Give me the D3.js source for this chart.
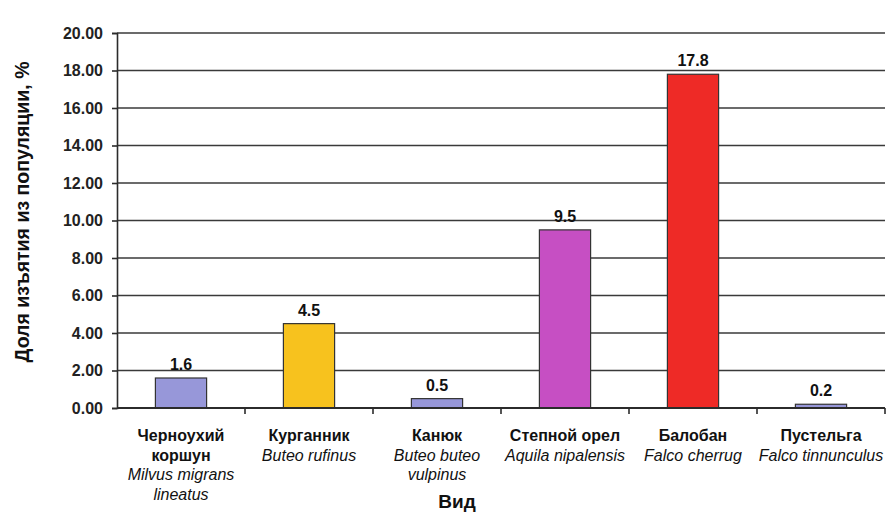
<!DOCTYPE html>
<html>
<head>
<meta charset="utf-8">
<script src="https://cdn.jsdelivr.net/npm/d3@7"></script>
<style>
  html, body { margin: 0; padding: 0; background: #fff; }
  svg { display: block; font-family: "Liberation Sans", Arial, sans-serif; }
</style>
</head>
<body>
<svg id="chart" width="888" height="514"></svg>
<script>
// Species (Russian common name + Latin name lines)
const speciesRu = [["Черноухий", "коршун"], ["Курганник"], ["Канюк"], ["Степной орел"], ["Балобан"], ["Пустельга"]];
const speciesLat = [["Milvus migrans", "lineatus"], ["Buteo rufinus"], ["Buteo buteo", "vulpinus"], ["Aquila nipalensis"], ["Falco cherrug"], ["Falco tinnunculus"]];
// Share removed from population, %
const shares = [1.6, 4.5, 0.5, 9.5, 17.8, 0.2];
const barColors = ["#9797d9", "#f7c21e", "#9797d9", "#c64fc3", "#ee2a26", "#9797d9"];
const yTicks = [0, 2, 4, 6, 8, 10, 12, 14, 16, 18, 20];

const svg = d3.select("#chart");
const margin = { left: 117, right: 3, top: 33, bottom: 106 };
const W = 888, H = 514;
const x0 = margin.left, x1 = W - margin.right;
const yTop = margin.top, yBot = H - margin.bottom;

const x = d3.scaleBand().domain(d3.range(shares.length)).range([x0, x1]).padding(0);
const y = d3.scaleLinear().domain([0, 20]).range([yBot, yTop]);

const ink = "#2b2b2b";

// Horizontal gridlines
svg.append("g").selectAll("line").data(yTicks.filter(v => v > 0)).join("line")
  .attr("x1", x0).attr("x2", x1)
  .attr("y1", d => y(d)).attr("y2", d => y(d))
  .attr("stroke", "#3a3a3a").attr("stroke-width", 1.6);

// Y axis
const yAxis = d3.axisLeft(y).tickValues(yTicks).tickFormat(d3.format(".2f")).tickSize(5).tickPadding(9);
const gy = svg.append("g").attr("transform", `translate(${x0},0)`).call(yAxis);
gy.select(".domain").attr("stroke", ink).attr("stroke-width", 1.6);
gy.selectAll(".tick line").attr("stroke", ink).attr("stroke-width", 1.6);
gy.selectAll(".tick text").attr("fill", "#222").attr("font-size", 16).attr("font-weight", "bold")
  .attr("font-family", "'Liberation Sans', Arial, sans-serif");

// Bars
const barW = x.bandwidth() * 0.4;
svg.append("g").selectAll("rect").data(shares).join("rect")
  .attr("x", (d, i) => x(i) + (x.bandwidth() - barW) / 2)
  .attr("y", d => y(d))
  .attr("width", barW)
  .attr("height", d => y(0) - y(d))
  .attr("fill", (d, i) => barColors[i])
  .attr("stroke", "#333").attr("stroke-width", 1.2);

// Value labels
svg.append("g").selectAll("text").data(shares).join("text")
  .attr("x", (d, i) => x(i) + x.bandwidth() / 2)
  .attr("y", d => y(d) - 8)
  .attr("text-anchor", "middle")
  .attr("font-size", 16).attr("font-weight", "bold").attr("fill", "#111")
  .text(d => d3.format(".1f")(d));

// X axis line with ticks at category boundaries
svg.append("line").attr("x1", x0).attr("x2", x1).attr("y1", y(0)).attr("y2", y(0))
  .attr("stroke", ink).attr("stroke-width", 1.8);
const bounds = d3.range(shares.length + 1).map(i => i < shares.length ? x(i) : x1);
svg.append("g").selectAll("line").data(bounds.slice(1)).join("line")
  .attr("x1", d => d).attr("x2", d => d)
  .attr("y1", y(0)).attr("y2", y(0) + 6)
  .attr("stroke", ink).attr("stroke-width", 1.6);

// Category labels
const lineH = 19.5;
const labelTop = y(0) + 33;
speciesRu.forEach((ru, i) => {
  const cx = x(i) + x.bandwidth() / 2;
  const g = svg.append("g");
  const lines = ru.map(t => ({ t, it: false })).concat(speciesLat[i].map(t => ({ t, it: true })));
  lines.forEach((l, k) => {
    g.append("text")
      .attr("x", cx).attr("y", labelTop + k * lineH)
      .attr("text-anchor", "middle")
      .attr("font-size", 16)
      .attr("font-weight", l.it ? "normal" : "bold")
      .attr("font-style", l.it ? "italic" : "normal")
      .attr("fill", "#111")
      .text(l.t);
  });
});

// Axis titles
svg.append("text")
  .attr("transform", `translate(29,212) rotate(-90)`)
  .attr("text-anchor", "middle")
  .attr("font-size", 19.5).attr("font-weight", "bold").attr("fill", "#111")
  .text("Доля изъятия из популяции, %");

svg.append("text")
  .attr("x", 457).attr("y", 508)
  .attr("text-anchor", "middle")
  .attr("font-size", 19).attr("font-weight", "bold").attr("fill", "#111")
  .text("Вид");
</script>
</body>
</html>
